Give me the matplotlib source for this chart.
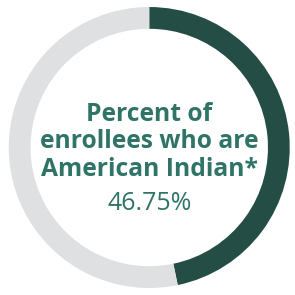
import matplotlib
matplotlib.use("Agg")
import matplotlib.pyplot as plt

# donut data
labels = ["American Indian", "Other"]
values = [46.75, 53.25]
colors = ["#234d45", "#dfe0e2"]

title_text = "Percent of\nenrollees who are\nAmerican Indian*"
value_text = "46.75%"
text_color = "#2f7466"

fig = plt.figure(figsize=(2.95, 2.95), dpi=100)
ax = fig.add_axes([0.0, 0.0, 1.0, 1.0])
ax.pie(values, colors=colors, startangle=90, counterclock=False,
       radius=1.0, wedgeprops=dict(width=0.155, edgecolor="none"))
ax.set_xlim(-1.055, 1.03)
ax.set_ylim(-1.05, 1.05)
ax.set_aspect("equal")
ax.axis("off")

ax.text(0.0, 0.04, title_text, ha="center", va="center", fontsize=17.7,
        fontweight="bold", family="Open Sans", color=text_color, linespacing=1.12)
ax.text(0.0, -0.40, value_text, ha="center", va="center", fontsize=18,
        family="Open Sans", color=text_color)

fig.savefig("out.png", dpi=100)
